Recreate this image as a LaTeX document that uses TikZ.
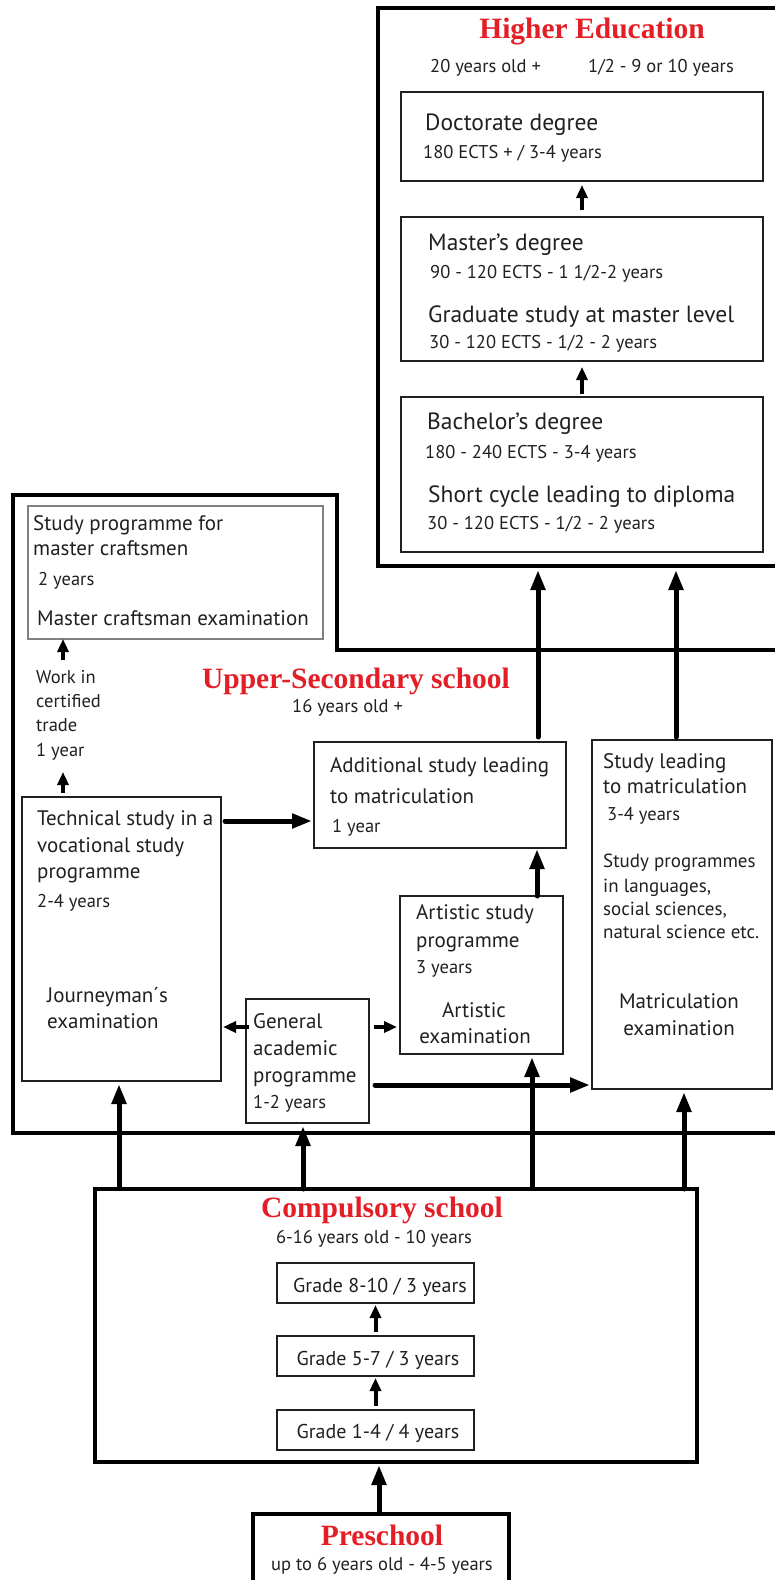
\documentclass[tikz,border=0pt]{standalone}
\usepackage{fontspec}
\setmainfont{PT Sans}
\newfontfamily\headfont{Liberation Serif}
\usetikzlibrary{arrows.meta,calc}

\definecolor{headred}{HTML}{E31E26}
\definecolor{ink}{HTML}{231F20}

\tikzset{
  frame/.style={draw=black, line width=4pt},
  box/.style={draw=ink, line width=2.2pt, rectangle, inner sep=0pt, outer sep=0pt},
  thickbox/.style={box, draw=black, line width=4pt},
  thinbox/.style={box, draw=gray, line width=1.3pt},
  bigtxt/.style={font=\fontsize{21}{25}\selectfont, text=ink, inner sep=0pt, anchor=base west},
  hbigtxt/.style={bigtxt, font=\fontsize{23.5}{28}\selectfont},
  midtxt/.style={font=\fontsize{18.5}{22}\selectfont, text=ink, inner sep=0pt, anchor=base west},
  notetxt/.style={font=\fontsize{19}{22}\selectfont, text=ink, inner sep=0pt, anchor=base west},
  headtxt/.style={font=\headfont\bfseries\fontsize{29.5}{32}\selectfont, text=headred, inner sep=0pt, anchor=base},
  arr/.style={draw=black, line width=5pt, line cap=round, -{Triangle[length=20pt,width=14pt]}},
  sarr/.style={draw=black, line width=4pt, -{Triangle[length=13pt,width=11pt]}},
}

\begin{document}
\begin{tikzpicture}[x=1pt,y=-1pt]
  \path[use as bounding box, fill=white] (0,0) rectangle (774,1580);

  % higher education
  \node[box, frame, minimum width=412pt, minimum height=558pt] (high) at (584,287) {};
  \node[headtxt] (hhead) at (592,38) {Higher Education};
  \node[midtxt] (hage) at (430,72) {20 years old +};
  \node[midtxt] (hdur) at (588,72) {1/2 - 9 or 10 years};

  \node[box, minimum width=362pt, minimum height=89pt] (doct) at (582,136.5) {};
  \node[hbigtxt] (dt1) at (425,130) {Doctorate degree};
  \node[midtxt] (dt2) at (423,158) {180 ECTS + / 3-4 years};

  \node[box, minimum width=362pt, minimum height=144pt] (mast) at (582,289) {};
  \node[hbigtxt] (mt1) at (428,250) {Master’s degree};
  \node[midtxt] (mt2) at (430,278) {90 - 120 ECTS - 1 1/2-2 years};
  \node[hbigtxt] (mt3) at (428,322) {Graduate study at master level};
  \node[midtxt] (mt4) at (429,348) {30 - 120 ECTS - 1/2 - 2 years};

  \node[box, minimum width=362pt, minimum height=155pt] (bach) at (582,474.5) {};
  \node[hbigtxt] (bt1) at (427,429) {Bachelor’s degree};
  \node[midtxt] (bt2) at (425,458) {180 - 240 ECTS - 3-4 years};
  \node[hbigtxt] (bt3) at (428,502) {Short cycle leading to diploma};
  \node[midtxt] (bt4) at (427,529) {30 - 120 ECTS - 1/2 - 2 years};

  \draw[sarr, shorten <=7pt, shorten >=4pt] (mast.north) -- (doct.south);
  \draw[sarr, shorten <=3pt, shorten >=6pt] (bach.north) -- (mast.south);

  % upper-secondary school
  \draw[frame] (780,650) -- (337,650) -- (337,495) -- (13,495) -- (13,1133) -- (780,1133);
  \node[headtxt] (uhead) at (356,688) {Upper-Secondary school};
  \node[midtxt] (uage) at (292,712) {16 years old +};

  \node[thinbox, minimum width=295pt, minimum height=133pt] (craft) at (175.5,572.5) {};
  \node[bigtxt] (ct1) at (33,530) {Study programme for};
  \node[bigtxt] (ct2) at (33,555) {master craftsmen};
  \node[midtxt] (ct3) at (38,585) {2 years};
  \node[bigtxt] (ct4) at (37,625) {Master craftsman examination};

  \node[midtxt] (wk1) at (36,683) {Work in};
  \node[midtxt] (wk2) at (36,707) {certified};
  \node[midtxt] (wk3) at (36,731) {trade};
  \node[midtxt] (wk4) at (36,756) {1 year};

  \node[box, minimum width=199pt, minimum height=284pt] (tech) at (121.5,939) {};
  \node[bigtxt] (tt1) at (37,825) {Technical study in a};
  \node[bigtxt] (tt2) at (37,852) {vocational study};
  \node[bigtxt] (tt3) at (37,878) {programme};
  \node[midtxt] (tt4) at (37,907) {2-4 years};
  \node[bigtxt] (tt5) at (47,1002) {Journeyman´s};
  \node[bigtxt] (tt6) at (47,1028) {examination};

  \node[box, minimum width=252pt, minimum height=106pt] (addl) at (440,795) {};
  \node[bigtxt] (at1) at (330,772) {Additional study leading};
  \node[bigtxt] (at2) at (330,803) {to matriculation};
  \node[midtxt] (at3) at (332,832) {1 year};

  \node[box, minimum width=163pt, minimum height=158pt] (arts) at (481.5,975) {};
  \node[bigtxt] (rt1) at (416,919) {Artistic study};
  \node[bigtxt] (rt2) at (416,947) {programme};
  \node[midtxt] (rt3) at (416,973) {3 years};
  \node[bigtxt, anchor=base] (rt4) at (474,1017) {Artistic};
  \node[bigtxt, anchor=base] (rt5) at (475,1043) {examination};

  \node[box, minimum width=123pt, minimum height=124pt] (genl) at (307.5,1061) {};
  \node[bigtxt] (gt1) at (253,1028) {General};
  \node[bigtxt] (gt2) at (253,1055) {academic};
  \node[bigtxt] (gt3) at (253,1082) {programme};
  \node[midtxt] (gt4) at (253,1108) {1-2 years};

  \node[box, minimum width=180pt, minimum height=349pt] (matr) at (682,914.5) {};
  \node[bigtxt] (mx1) at (603,768) {Study leading};
  \node[bigtxt] (mx2) at (603,793) {to matriculation};
  \node[midtxt] (mx3) at (607,820) {3-4 years};
  \node[notetxt] (mx4) at (603,867) {Study programmes};
  \node[notetxt] (mx5) at (603,892) {in languages,};
  \node[notetxt] (mx6) at (603,915) {social sciences,};
  \node[notetxt] (mx7) at (603,938) {natural science etc.};
  \node[bigtxt, anchor=base] (mx8) at (679,1008) {Matriculation};
  \node[bigtxt, anchor=base] (mx9) at (679,1035) {examination};

  % columns and rows for the connectors
  \coordinate (colW) at (63,0);
  \coordinate (colA) at (538,0);
  \coordinate (colS) at (676,0);
  \coordinate (colR) at (537,0);
  \coordinate (rowT) at (0,821);
  \coordinate (rowG) at (0,1027);
  \coordinate (rowM) at (0,1085);
  \coordinate (workTop) at (63,660);
  \coordinate (workBot) at (63,772);

  \draw[sarr] (workTop) -- (craft.south -| colW);
  \draw[sarr, shorten <=4pt] (tech.north -| colW) -- (workBot);
  \draw[arr, shorten <=5pt, shorten >=4pt] (addl.north -| colA) -- (high.south -| colA);
  \draw[arr, shorten <=3pt, shorten >=4pt] (matr.north -| colS) -- (high.south -| colS);
  \draw[arr, shorten <=4pt, shorten >=2pt] (tech.east |- rowT) -- (addl.west |- rowT);
  \draw[arr, shorten >=1pt] (arts.north -| colR) -- (addl.south -| colR);
  \draw[sarr, line width=4.5pt, shorten <=-3pt, shorten >=2pt] (genl.west |- rowG) -- (tech.east |- rowG);
  \draw[sarr, line width=4.5pt, shorten <=5pt, shorten >=3pt] (genl.east |- rowG) -- (arts.west |- rowG);
  \draw[arr, shorten <=6pt, shorten >=2pt] (genl.east |- rowM) -- (matr.west |- rowM);

  % compulsory school
  \node[thickbox, minimum width=602pt, minimum height=273pt] (comp) at (396,1325.5) {};
  \node[headtxt] (chead) at (382,1217) {Compulsory school};
  \node[midtxt, anchor=base] (cage) at (374,1243) {6-16 years old - 10 years};

  \node[box, minimum width=197pt, minimum height=40pt] (g810) at (375.5,1283) {};
  \node[bigtxt, anchor=base, font=\fontsize{20}{24}\selectfont] (g810t) at (380,1292) {Grade 8-10 / 3 years};
  \node[box, minimum width=197pt, minimum height=40pt] (g57) at (375.5,1356) {};
  \node[bigtxt, anchor=base, font=\fontsize{20}{24}\selectfont] (g57t) at (378,1365) {Grade 5-7 / 3 years};
  \node[box, minimum width=197pt, minimum height=40pt] (g14) at (375.5,1430) {};
  \node[bigtxt, anchor=base, font=\fontsize{20}{24}\selectfont] (g14t) at (378,1438) {Grade 1-4 / 4 years};

  \draw[sarr, shorten <=4pt, shorten >=2pt] (g57.north) -- (g810.south);
  \draw[sarr, shorten <=4pt, shorten >=2pt] (g14.north) -- (g57.south);

  \coordinate (colT) at (119,0);
  \coordinate (colG) at (303,0);
  \coordinate (colK) at (532,0);
  \coordinate (colM) at (684,0);
  \coordinate (colP) at (379,0);
  \draw[arr, shorten <=2pt, shorten >=3pt] (comp.north -| colT) -- (tech.south -| colT);
  \draw[arr, shorten >=3pt] (comp.north -| colG) -- (genl.south -| colG);
  \draw[arr, shorten <=2pt, shorten >=3pt] (comp.north -| colK) -- (arts.south -| colK);
  \draw[arr, shorten >=3pt] (comp.north -| colM) -- (matr.south -| colM);

  % preschool
  \node[thickbox, minimum width=256pt, minimum height=78pt] (pre) at (381,1553) {};
  \node[headtxt] (phead) at (382,1545) {Preschool};
  \node[midtxt, anchor=base] (page) at (382,1570) {up to 6 years old - 4-5 years};

  \draw[arr, shorten <=2pt, shorten >=3pt] (pre.north -| colP) -- (comp.south -| colP);
\end{tikzpicture}
\end{document}
